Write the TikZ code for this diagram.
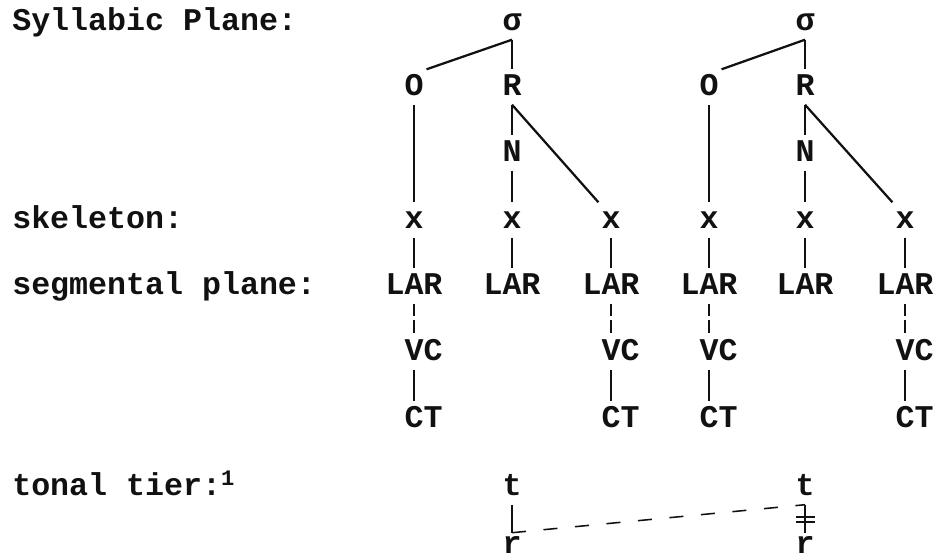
\documentclass[tikz,border=0pt]{standalone}
\usepackage{fontspec}
\setmonofont{Liberation Mono}
\usetikzlibrary{positioning}
\definecolor{ink}{HTML}{111111}

\begin{document}
\begin{tikzpicture}[
  seg/.style={font=\ttfamily\bfseries\fontsize{22.5}{27}\selectfont, text=ink,
    text height=12.8pt, text depth=0pt, inner xsep=2pt, inner ysep=6pt},
  tierlabel/.style={seg, anchor=west},
  link/.style={ink, line width=1.6pt},
  brokenlink/.style={link, dash pattern=on 9pt off 2.5pt},
  floatlink/.style={ink, line width=1.1pt, dash pattern=on 10pt off 12.5pt},
]

% Frame
\useasboundingbox (0,0) rectangle (23.425,-13.975);

% === Tier labels ===
\node[tierlabel] (lblsyl) at (0.23,-0.55) {Syllabic Plane:};
\node[tierlabel] (lblskel) at (0.23,-5.5) {skeleton:};
\node[tierlabel] (lblseg) at (0.23,-7.15) {segmental plane:};
\node[tierlabel] (lbltone) at (0.23,-12.175) {tonal tier:\textsuperscript{1}};

% === Syllabic plane ===
\node[seg] (sig1) at (12.8,-0.55) {σ};
\node[seg] (sig2) at (20.125,-0.55) {σ};

\node[seg] (ons1) at (10.35,-2.175) {O};
\node[seg] (rhy1) at (12.8,-2.175) {R};
\node[seg] (ons2) at (17.725,-2.175) {O};
\node[seg] (rhy2) at (20.125,-2.175) {R};

\node[seg] (nuc1) at (12.8,-3.825) {N};
\node[seg] (nuc2) at (20.125,-3.825) {N};

% === Skeleton ===
\node[seg] (sk1) at (10.35,-5.5) {x};
\node[seg] (sk2) at (12.8,-5.5) {x};
\node[seg] (sk3) at (15.275,-5.5) {x};
\node[seg] (sk4) at (17.725,-5.5) {x};
\node[seg] (sk5) at (20.125,-5.5) {x};
\node[seg] (sk6) at (22.625,-5.5) {x};

% === Segmental plane ===
\node[seg] (lar1) at (10.35,-7.15) {LAR};
\node[seg] (lar2) at (12.8,-7.15) {LAR};
\node[seg] (lar3) at (15.275,-7.15) {LAR};
\node[seg] (lar4) at (17.725,-7.15) {LAR};
\node[seg] (lar5) at (20.125,-7.15) {LAR};
\node[seg] (lar6) at (22.625,-7.15) {LAR};

% VC and CT sit with their first letter on the column
\node[seg] (vc1) at (10.59,-8.8) {VC};
\node[seg] (vc3) at (15.515,-8.8) {VC};
\node[seg] (vc4) at (17.965,-8.8) {VC};
\node[seg] (vc6) at (22.865,-8.8) {VC};

\node[seg] (ct1) at (10.59,-10.475) {CT};
\node[seg] (ct3) at (15.515,-10.475) {CT};
\node[seg] (ct4) at (17.965,-10.475) {CT};
\node[seg] (ct6) at (22.865,-10.475) {CT};

% === Tonal tier ===
\node[seg] (tone1) at (12.8,-12.175) {t};
\node[seg] (tone2) at (20.125,-12.175) {t};
\node[seg, inner ysep=2pt] (reg1) at (12.8,-13.62) {r};
\node[seg, inner ysep=2pt] (reg2) at (20.125,-13.62) {r};

% === Association lines ===
% first syllable
\draw[link] (sig1.south) -- (ons1.north east);
\draw[link] (sig1.south) -- (rhy1.north);
\draw[link] (ons1.south) -- (sk1.north);
\draw[link] (rhy1.south) -- (nuc1.north);
\draw[link] (nuc1.south) -- (sk2.north);
\draw[link] (rhy1.south) -- (sk3.north west);

% second syllable
\draw[link] (sig2.south) -- (ons2.north east);
\draw[link] (sig2.south) -- (rhy2.north);
\draw[link] (ons2.south) -- (sk4.north);
\draw[link] (rhy2.south) -- (nuc2.north);
\draw[link] (nuc2.south) -- (sk5.north);
\draw[link] (rhy2.south) -- (sk6.north west);

% skeleton to LAR
\draw[link] (sk1.south) -- (lar1.north);
\draw[link] (sk2.south) -- (lar2.north);
\draw[link] (sk3.south) -- (lar3.north);
\draw[link] (sk4.south) -- (lar4.north);
\draw[link] (sk5.south) -- (lar5.north);
\draw[link] (sk6.south) -- (lar6.north);

% LAR to VC
\draw[brokenlink] (lar1.south) -- (lar1 |- vc1.north);
\draw[brokenlink] (lar3.south) -- (lar3 |- vc3.north);
\draw[brokenlink] (lar4.south) -- (lar4 |- vc4.north);
\draw[brokenlink] (lar6.south) -- (lar6 |- vc6.north);

% VC to CT
\draw[link] (lar1 |- vc1.south) -- (lar1 |- ct1.north);
\draw[link] (lar3 |- vc3.south) -- (lar3 |- ct3.north);
\draw[link] (lar4 |- vc4.south) -- (lar4 |- ct4.north);
\draw[link] (lar6 |- vc6.south) -- (lar6 |- ct6.north);

% tone to register
\draw[link] (tone1.south) -- (reg1.north);
\draw[link] (tone2.south) -- (reg2.north);
\draw[floatlink] (reg1.north) -- (tone2.south);

% delinking mark
\draw[link] ([xshift=-0.23cm,yshift=-0.3cm]tone2.south) -- ++(0.47,0);
\draw[link] ([xshift=-0.23cm,yshift=-0.44cm]tone2.south) -- ++(0.47,0);

\end{tikzpicture}
\end{document}
